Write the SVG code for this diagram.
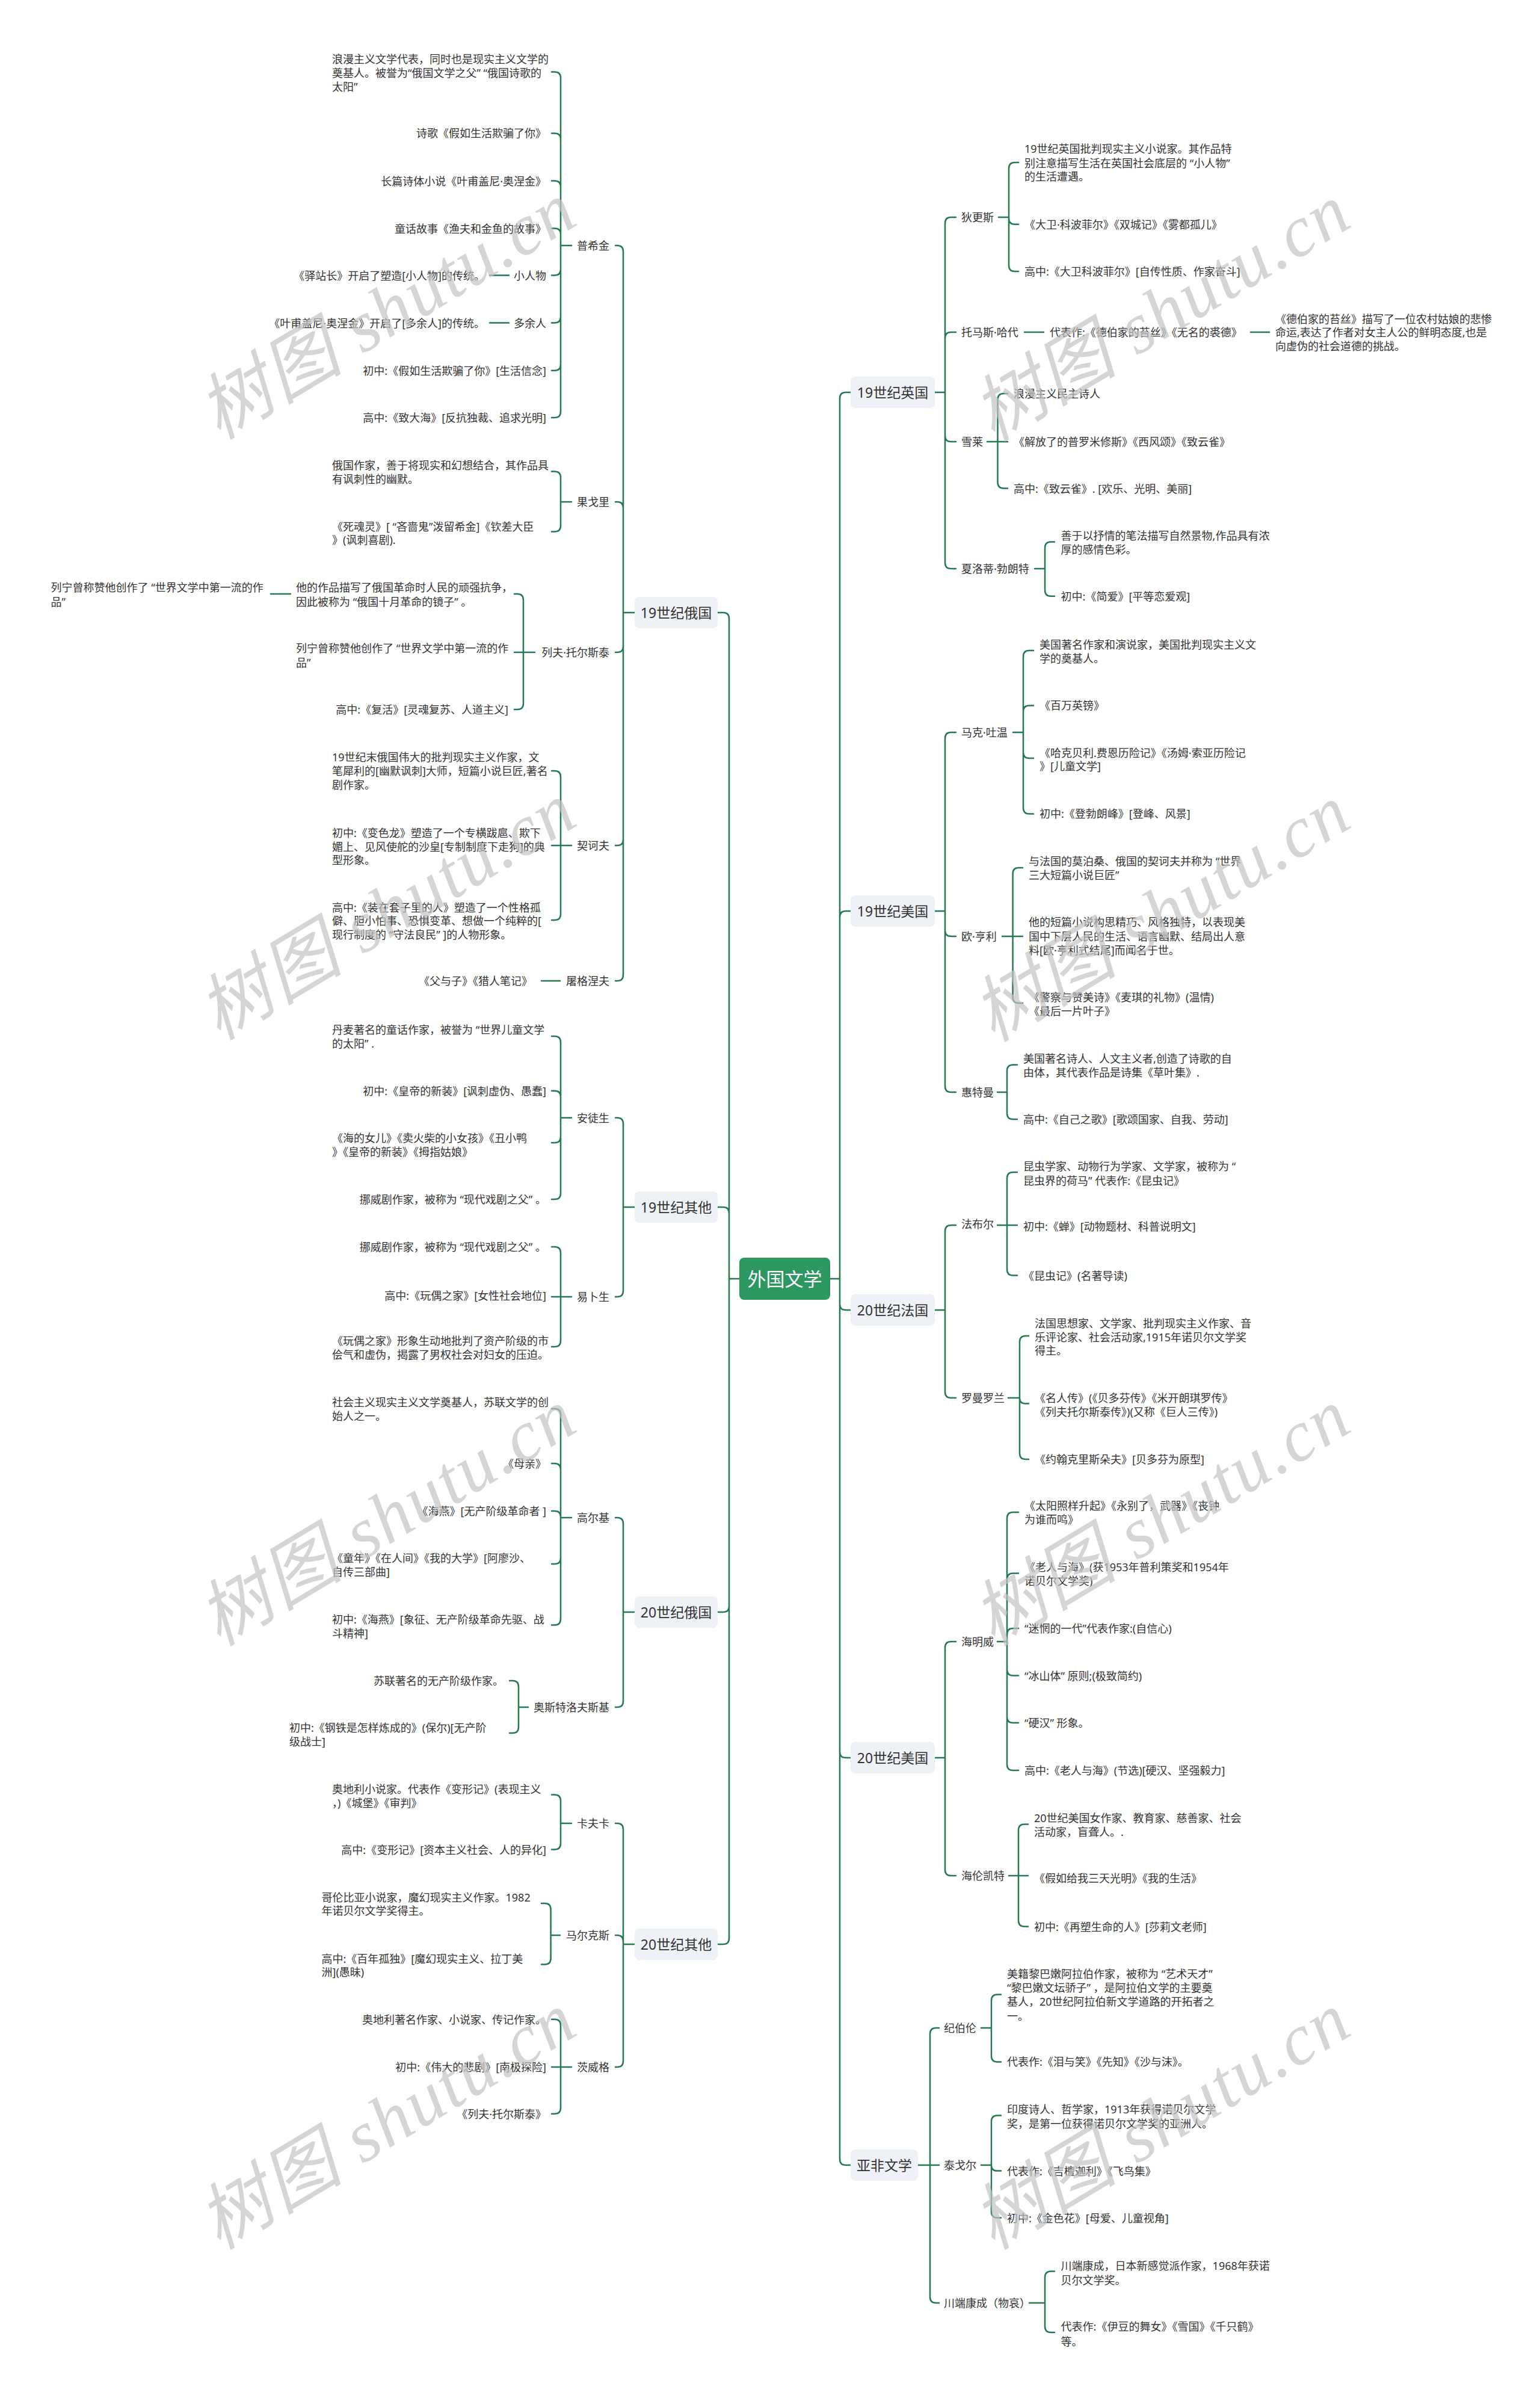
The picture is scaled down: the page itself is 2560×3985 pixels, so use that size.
<svg xmlns="http://www.w3.org/2000/svg" width="2560" height="3985" viewBox="0 0 2560 3985">
<style>
text{font-family:"Noto Sans","Noto Sans CJK SC",sans-serif;font-size:18px;fill:#333;dominant-baseline:central}
.e{text-anchor:end}
.m{text-anchor:middle}
.l1{font-size:23px}
.root{font-size:31px;fill:#fff;text-anchor:middle}
.c path{fill:none;stroke:#237a4e;stroke-width:2.5;stroke-linecap:round}
.b{fill:#eef1f5}
.wm{font-family:"Liberation Serif","Noto Sans CJK SC",serif;font-style:italic;font-size:120px;fill:#c4c4c4;opacity:.7;text-anchor:middle}
</style>
<rect width="2560" height="3985" fill="#fff"/>
<g id="connectors" class="c">
<path d="M1229 2125H1212M1212 2125V1028Q1212 1018 1202 1018H1193M1212 2125V2016Q1212 2006 1202 2006H1193M1212 2125V2669Q1212 2679 1202 2679H1193M1212 2125V3221Q1212 3231 1202 3231H1193"/>
<path d="M1380 2125H1396M1396 2125V662Q1396 652 1406 652H1414M1396 2125V1524Q1396 1514 1406 1514H1414M1396 2125V2167Q1396 2177 1406 2177H1414M1396 2125V2911Q1396 2921 1406 2921H1414M1396 2125V3588Q1396 3598 1406 3598H1414"/>
<path d="M1055 1018H1036M1036 1018V418Q1036 408 1026 408H1023M1036 1018V844Q1036 834 1026 834H1023M1036 1018V1074Q1036 1084 1026 1084H1023M1036 1018V1395Q1036 1405 1026 1405H1023M1036 1018V1620Q1036 1630 1026 1630H1023"/>
<path d="M1055 2006H1036M1036 2006V1867.5Q1036 1857.5 1026 1857.5H1023M1036 2006V2145Q1036 2155 1026 2155H1023"/>
<path d="M1055 2679H1036M1036 2679V2532Q1036 2522 1026 2522H1023M1036 2679V2827Q1036 2837 1026 2837H1023"/>
<path d="M1055 3231H1036M1036 3231V3040Q1036 3030 1026 3030H1023M1036 3231V3226Q1036 3216 1026 3216H1023M1036 3231V3425Q1036 3435 1026 3435H1023"/>
<path d="M1554 652H1571M1571 652V371Q1571 361 1581 361H1589M1571 652V562Q1571 552 1581 552H1589M1571 652V724Q1571 734 1581 734H1589M1571 652V935Q1571 945 1581 945H1589"/>
<path d="M1554 1514H1571M1571 1514V1227Q1571 1217 1581 1217H1589M1571 1514V1546Q1571 1556 1581 1556H1589M1571 1514V1805Q1571 1815 1581 1815H1589"/>
<path d="M1554 2177H1571M1571 2177V2046Q1571 2036 1581 2036H1589M1571 2177V2313Q1571 2323 1581 2323H1589"/>
<path d="M1554 2921H1571M1571 2921V2738Q1571 2728 1581 2728H1589M1571 2921V3107Q1571 3117 1581 3117H1589"/>
<path d="M1526 3598H1546M1546 3598V3380Q1546 3370 1556 3370H1561M1546 3598H1561M1546 3598V3817Q1546 3827 1556 3827H1561"/>
<path d="M1660 361H1677M1677 361V280Q1677 270 1687 270H1693M1677 361V362.8Q1677 372.8 1687 372.8H1693M1677 361V441Q1677 451 1687 451H1693"/>
<path d="M1703 552H1735M2079 552H2110"/>
<path d="M1641 734H1658.5M1658.5 734V664Q1658.5 654 1668.5 654H1675M1658.5 734H1675M1658.5 734V801.5Q1658.5 811.5 1668.5 811.5H1675"/>
<path d="M1720 945H1737M1737 945V910.4Q1737 900.4 1747 900.4H1753M1737 945V980.8Q1737 990.8 1747 990.8H1753"/>
<path d="M1684 1217H1701M1701 1217V1091Q1701 1081 1711 1081H1718M1701 1217V1182.4Q1701 1172.4 1711 1172.4H1718M1701 1217V1250Q1701 1260 1711 1260H1718M1701 1217V1342.4Q1701 1352.4 1711 1352.4H1718"/>
<path d="M1666 1556H1683.6M1683.6 1556V1452Q1683.6 1442 1693.6 1442H1700M1683.6 1556H1700M1683.6 1556V1657Q1683.6 1667 1693.6 1667H1700"/>
<path d="M1658 1815H1674M1674 1815V1779.5Q1674 1769.5 1684 1769.5H1691M1674 1815V1850Q1674 1860 1684 1860H1691"/>
<path d="M1658 2036H1674M1674 2036V1958Q1674 1948 1684 1948H1691M1674 2036H1691M1674 2036V2109.5Q1674 2119.5 1684 2119.5H1691"/>
<path d="M1676 2323H1695M1695 2323V2230Q1695 2220 1705 2220H1710M1695 2323V2323Q1695 2332.4 1704.4 2332.4H1710M1695 2323V2415Q1695 2425 1705 2425H1710"/>
<path d="M1658 2728H1674M1674 2728V2523Q1674 2513 1684 2513H1693M1674 2728V2624.5Q1674 2614.5 1684 2614.5H1693M1674 2728V2716Q1674 2706 1684 2706H1693M1674 2728V2774.5Q1674 2784.5 1684 2784.5H1693M1674 2728V2853Q1674 2863 1684 2863H1693M1674 2728V2932Q1674 2942 1684 2942H1693"/>
<path d="M1677 3117H1693M1693 3117V3041.6Q1693 3031.6 1703 3031.6H1709M1693 3117H1709M1693 3117V3191.5Q1693 3201.5 1703 3201.5H1709"/>
<path d="M1631 3370H1648M1648 3370V3324.5Q1648 3314.5 1658 3314.5H1664M1648 3370V3416.4Q1648 3426.4 1658 3426.4H1664"/>
<path d="M1631 3598H1648M1648 3598V3525.5Q1648 3515.5 1658 3515.5H1664M1648 3598V3598Q1648 3607.6 1657.6 3607.6H1664M1648 3598V3675.5Q1648 3685.5 1658 3685.5H1664"/>
<path d="M1711 3827H1737M1737 3827V3784.6Q1737 3774.6 1747 3774.6H1753M1737 3827V3866Q1737 3876 1747 3876H1753"/>
<path d="M950 408H932M932 408V129.4Q932 119.4 922 119.4H917M932 408V231.4Q932 221.4 922 221.4H917M932 408V310.5Q932 300.5 922 300.5H917M932 408V389.6Q932 379.6 922 379.6H917M932 408V447.5Q932 457.5 922 457.5H917M932 408V526.6Q932 536.6 922 536.6H917M932 408V605.7Q932 615.7 922 615.7H917M932 408V684Q932 694 922 694H917M846 457.5H814M846 536.6H814"/>
<path d="M950 834H932M932 834V793.6Q932 783.6 922 783.6H917M932 834V873.6Q932 883.6 922 883.6H917"/>
<path d="M889 1084H870M870 1084V997Q870 987 860 987H855M870 1084H855M870 1084V1169Q870 1179 860 1179H855M483 987H450"/>
<path d="M950 1405H932M932 1405V1291Q932 1281 922 1281H917M932 1405H917M932 1405V1519Q932 1529 922 1529H917"/>
<path d="M931 1630H900"/>
<path d="M950 1857.5H932M932 1857.5V1732Q932 1722 922 1722H917M932 1857.5V1822.7Q932 1812.7 922 1812.7H917M932 1857.5V1889Q932 1899 922 1899H917M932 1857.5V1983Q932 1993 922 1993H917"/>
<path d="M950 2155H932M932 2155V2082Q932 2072 922 2072H917M932 2155H917M932 2155V2228Q932 2238 922 2238H917"/>
<path d="M950 2522H932M932 2522V2351Q932 2341 922 2341H917M932 2522V2442Q932 2432 922 2432H917M932 2522V2521Q932 2511 922 2511H917M932 2522V2589Q932 2599 922 2599H917M932 2522V2690.6Q932 2700.6 922 2700.6H917"/>
<path d="M878 2837H862M862 2837V2803Q862 2793 852 2793H847M862 2837V2870Q862 2880 852 2880H847"/>
<path d="M950 3030H932M932 3030V2992.5Q932 2982.5 922 2982.5H917M932 3030V3063.5Q932 3073.5 922 3073.5H917"/>
<path d="M931 3216H915.6M915.6 3216V3173Q915.6 3163 905.6 3163H900M915.6 3216V3254.6Q915.6 3264.6 905.6 3264.6H900"/>
<path d="M950 3435H932M932 3435V3365.7Q932 3355.7 922 3355.7H917M932 3435H917M932 3435V3502.8Q932 3512.8 922 3512.8H917"/>
</g>
<g id="n-root"><rect x="1229" y="2090" width="151" height="70" rx="8" fill="#2d9761"/><text class="root" x="1304.5" y="2125">外国文学</text></g>
<g id="n-19ru"><rect class="b" x="1055" y="992" width="138" height="52" rx="8"/><text class="l1 m" x="1124" y="1018">19世纪俄国</text></g>
<g id="n-19ot"><rect class="b" x="1055" y="1980" width="138" height="52" rx="8"/><text class="l1 m" x="1124" y="2006">19世纪其他</text></g>
<g id="n-20ru"><rect class="b" x="1055" y="2653" width="138" height="52" rx="8"/><text class="l1 m" x="1124" y="2679">20世纪俄国</text></g>
<g id="n-20ot"><rect class="b" x="1055" y="3205" width="138" height="52" rx="8"/><text class="l1 m" x="1124" y="3231">20世纪其他</text></g>
<g id="n-19uk"><rect class="b" x="1414" y="626" width="140" height="52" rx="8"/><text class="l1 m" x="1484" y="652">19世纪英国</text></g>
<g id="n-19us"><rect class="b" x="1414" y="1488" width="140" height="52" rx="8"/><text class="l1 m" x="1484" y="1514">19世纪美国</text></g>
<g id="n-20fr"><rect class="b" x="1414" y="2151" width="140" height="52" rx="8"/><text class="l1 m" x="1484" y="2177">20世纪法国</text></g>
<g id="n-20us"><rect class="b" x="1414" y="2895" width="140" height="52" rx="8"/><text class="l1 m" x="1484" y="2921">20世纪美国</text></g>
<g id="n-asaf"><rect class="b" x="1414" y="3572" width="112" height="52" rx="8"/><text class="l1 m" x="1470" y="3598">亚非文学</text></g>
<g id="n-pushkin"><text class="e" x="1013" y="408">普希金</text>
<text x="552" y="97.7">浪漫主义文学代表，同时也是现实主义文学的</text><text x="552" y="120.6">奠基人。被誉为“俄国文学之父” “俄国诗歌的</text><text x="552" y="143.5">太阳”</text>
<text class="e" x="908" y="221.4">诗歌《假如生活欺骗了你》</text>
<text class="e" x="908" y="300.5">长篇诗体小说《叶甫盖尼·奥涅金》</text>
<text class="e" x="908" y="379.6">童话故事《渔夫和金鱼的故事》</text>
<text class="e" x="908" y="457.5">小人物</text><text class="e" x="806" y="457.5">《驿站长》开启了塑造[小人物]的传统。</text>
<text class="e" x="908" y="536.6">多余人</text><text class="e" x="806" y="536.6">《叶甫盖尼·奥涅金》开启了[多余人]的传统。</text>
<text class="e" x="908" y="615.7">初中:《假如生活欺骗了你》[生活信念]</text>
<text class="e" x="908" y="694">高中:《致大海》[反抗独裁、追求光明]</text></g>
<g id="n-gogol"><text class="e" x="1013" y="834">果戈里</text>
<text x="552" y="772.9">俄国作家，善于将现实和幻想结合，其作品具</text><text x="552" y="795.5">有讽刺性的幽默。</text>
<text x="552" y="874.5">《死魂灵》[ “吝啬鬼”泼留希金]《钦差大臣</text><text x="552" y="896.7">》(讽刺喜剧).</text></g>
<g id="n-tolstoy"><text class="e" x="1013" y="1084">列夫·托尔斯泰</text>
<text x="492" y="975.8">他的作品描写了俄国革命时人民的顽强抗争，</text><text x="492" y="999.5">因此被称为 “俄国十月革命的镜子” 。</text>
<text x="84.5" y="975.8">列宁曾称赞他创作了 “世界文学中第一流的作</text><text x="84.5" y="999.5">品”</text>
<text x="492" y="1077.4">列宁曾称赞他创作了 “世界文学中第一流的作</text><text x="492" y="1101">品”</text>
<text class="e" x="845" y="1179">高中:《复活》[灵魂复苏、人道主义]</text></g>
<g id="n-chekhov"><text class="e" x="1013" y="1405">契诃夫</text>
<text x="552" y="1258">19世纪末俄国伟大的批判现实主义作家，文</text><text x="552" y="1281">笔犀利的[幽默讽刺]大师，短篇小说巨匠,著名</text><text x="552" y="1303.8">剧作家。</text>
<text x="552" y="1383.7">初中:《变色龙》塑造了一个专横跋扈、欺下</text><text x="552" y="1406.6">媚上、见风使舵的沙皇[专制制度下走狗]的典</text><text x="552" y="1429.2">型形象。</text>
<text x="552" y="1507.5">高中:《装在套子里的人》塑造了一个性格孤</text><text x="552" y="1530.4">僻、胆小怕事、恐惧变革、想做一个纯粹的[</text><text x="552" y="1553">现行制度的 “守法良民” ]的人物形象。</text></g>
<g id="n-turgenev"><text class="e" x="1013" y="1630">屠格涅夫</text><text class="e" x="885" y="1630">《父与子》《猎人笔记》</text></g>
<g id="n-andersen"><text class="e" x="1013" y="1857.5">安徒生</text>
<text x="552" y="1711">丹麦著名的童话作家，被誉为 “世界儿童文学</text><text x="552" y="1733.6">的太阳” .</text>
<text class="e" x="908" y="1812.7">初中:《皇帝的新装》[讽刺虚伪、愚蠢]</text>
<text x="552" y="1891">《海的女儿》《卖火柴的小女孩》《丑小鸭</text><text x="552" y="1913.8">》《皇帝的新装》《拇指姑娘》</text>
<text class="e" x="908" y="1993">挪威剧作家，被称为 “现代戏剧之父” 。</text></g>
<g id="n-ibsen"><text class="e" x="1013" y="2155">易卜生</text>
<text class="e" x="908" y="2072">挪威剧作家，被称为 “现代戏剧之父” 。</text>
<text class="e" x="908" y="2153">高中:《玩偶之家》[女性社会地位]</text>
<text x="552" y="2228">《玩偶之家》形象生动地批判了资产阶级的市</text><text x="552" y="2251">侩气和虚伪，揭露了男权社会对妇女的压迫。</text></g>
<g id="n-gorky"><text class="e" x="1013" y="2522">高尔基</text>
<text x="552" y="2330">社会主义现实主义文学奠基人，苏联文学的创</text><text x="552" y="2352.7">始人之一。</text>
<text class="e" x="908" y="2432">《母亲》</text>
<text class="e" x="908" y="2511">《海燕》[无产阶级革命者 ]</text>
<text x="552" y="2589">《童年》《在人间》《我的大学》[阿廖沙、</text><text x="552" y="2612">自传三部曲]</text>
<text x="552" y="2691">初中:《海燕》[象征、无产阶级革命先驱、战</text><text x="552" y="2713.6">斗精神]</text></g>
<g id="n-ostrovsky"><text class="e" x="1013" y="2837">奥斯特洛夫斯基</text>
<text class="e" x="837" y="2793">苏联著名的无产阶级作家。</text>
<text x="481" y="2870.6">初中:《钢铁是怎样炼成的》(保尔)[无产阶</text><text x="481" y="2893.5">级战士]</text></g>
<g id="n-kafka"><text class="e" x="1013" y="3030">卡夫卡</text>
<text x="552" y="2972.6">奥地利小说家。代表作《变形记》(表现主义</text><text x="552" y="2995.6">，)《城堡》《审判》</text>
<text class="e" x="908" y="3073.5">高中:《变形记》[资本主义社会、人的异化]</text></g>
<g id="n-marquez"><text class="e" x="1013" y="3216">马尔克斯</text>
<text x="534.5" y="3153">哥伦比亚小说家，魔幻现实主义作家。1982</text><text x="534.5" y="3175.4">年诺贝尔文学奖得主。</text>
<text x="534.5" y="3255">高中:《百年孤独》[魔幻现实主义、拉丁美</text><text x="534.5" y="3277">洲](愚昧)</text></g>
<g id="n-zweig"><text class="e" x="1013" y="3435">茨威格</text>
<text class="e" x="908" y="3355.7">奥地利著名作家、小说家、传记作家。</text>
<text class="e" x="908" y="3435">初中:《伟大的悲剧》[南极探险]</text>
<text class="e" x="908" y="3512.8">《列夫·托尔斯泰》</text></g>
<g id="n-dickens"><text x="1598" y="361">狄更斯</text>
<text x="1703" y="247.4">19世纪英国批判现实主义小说家。其作品特</text><text x="1703" y="271">别注意描写生活在英国社会底层的 “小人物”</text><text x="1703" y="293">的生活遭遇。</text>
<text x="1703" y="372.8">《大卫·科波菲尔》《双城记》《雾都孤儿》</text>
<text x="1703" y="451">高中:《大卫科波菲尔》[自传性质、作家奋斗]</text></g>
<g id="n-hardy"><text x="1598" y="552.4">托马斯·哈代</text>
<text x="1745" y="552.4">代表作:《德伯家的苔丝》《无名的裘德》</text>
<text x="2120" y="529.5">《德伯家的苔丝》描写了一位农村姑娘的悲惨</text><text x="2120" y="552.4">命运,表达了作者对女主人公的鲜明态度,也是</text><text x="2120" y="574.5">向虚伪的社会道德的挑战。</text></g>
<g id="n-shelley"><text x="1598" y="734">雪莱</text>
<text x="1685" y="654">浪漫主义民主诗人</text>
<text x="1685" y="734">《解放了的普罗米修斯》《西风颂》《致云雀》</text>
<text x="1685" y="811.5">高中:《致云雀》. [欢乐、光明、美丽]</text></g>
<g id="n-bronte"><text x="1598" y="945">夏洛蒂·勃朗特</text>
<text x="1763.6" y="890.3">善于以抒情的笔法描写自然景物,作品具有浓</text><text x="1763.6" y="913.2">厚的感情色彩。</text>
<text x="1763.6" y="990.8">初中:《简爱》[平等恋爱观]</text></g>
<g id="n-twain"><text x="1598" y="1217">马克·吐温</text>
<text x="1728" y="1071">美国著名作家和演说家，美国批判现实主义文</text><text x="1728" y="1094">学的奠基人。</text>
<text x="1728" y="1172.4">《百万英镑》</text>
<text x="1728" y="1250.7">《哈克贝利.费恩历险记》《汤姆·索亚历险记</text><text x="1728" y="1273.2">》[儿童文学]</text>
<text x="1728" y="1352.4">初中:《登勃朗峰》[登峰、风景]</text></g>
<g id="n-ohenry"><text x="1598" y="1556">欧·亨利</text>
<text x="1710" y="1431">与法国的莫泊桑、俄国的契诃夫并称为 “世界</text><text x="1710" y="1454">三大短篇小说巨匠”</text>
<text x="1710" y="1532.4">他的短篇小说构思精巧、风格独特，以表现美</text><text x="1710" y="1555.7">国中下层人民的生活、语言幽默、结局出人意</text><text x="1710" y="1578.6">料[欧·亨利式结尾]而闻名于世。</text>
<text x="1710" y="1657">《警察与赞美诗》《麦琪的礼物》(温情)</text><text x="1710" y="1680">《最后一片叶子》</text></g>
<g id="n-whitman"><text x="1598" y="1815">惠特曼</text>
<text x="1701" y="1759.4">美国著名诗人、人文主义者,创造了诗歌的自</text><text x="1701" y="1782.3">由体，其代表作品是诗集《草叶集》.</text>
<text x="1701" y="1860">高中:《自己之歌》[歌颂国家、自我、劳动]</text></g>
<g id="n-fabre"><text x="1598" y="2034">法布尔</text>
<text x="1701" y="1938">昆虫学家、动物行为学家、文学家，被称为 “</text><text x="1701" y="1961.5">昆虫界的荷马” 代表作:《昆虫记》</text>
<text x="1701" y="2038">初中:《蝉》[动物题材、科普说明文]</text>
<text x="1701" y="2119.5">《昆虫记》(名著导读)</text></g>
<g id="n-rolland"><text x="1598" y="2323">罗曼罗兰</text>
<text x="1720" y="2198.6">法国思想家、文学家、批判现实主义作家、音</text><text x="1720" y="2221.5">乐评论家、社会活动家,1915年诺贝尔文学奖</text><text x="1720" y="2244">得主。</text>
<text x="1720" y="2323">《名人传》(《贝多芬传》《米开朗琪罗传》</text><text x="1720" y="2346">《列夫托尔斯泰传》)(又称《巨人三传》)</text>
<text x="1720" y="2425">《约翰克里斯朵夫》[贝多芬为原型]</text></g>
<g id="n-hemingway"><text x="1598" y="2728">海明威</text>
<text x="1703" y="2502">《太阳照样升起》《永别了，武器》《丧钟</text><text x="1703" y="2525">为谁而鸣》</text>
<text x="1703" y="2604.4">《老人与海》(获1953年普利策奖和1954年</text><text x="1703" y="2627.3">诺贝尔文学奖)</text>
<text x="1703" y="2706">“迷惘的一代”代表作家:(自信心)</text>
<text x="1703" y="2784.5">“冰山体” 原则;(极致简约)</text>
<text x="1703" y="2863">“硬汉” 形象。</text>
<text x="1703" y="2942">高中:《老人与海》(节选)[硬汉、坚强毅力]</text></g>
<g id="n-keller"><text x="1598" y="3117">海伦凯特</text>
<text x="1719" y="3020.7">20世纪美国女作家、教育家、慈善家、社会</text><text x="1719" y="3043.6">活动家，盲聋人。.</text>
<text x="1719" y="3121">《假如给我三天光明》《我的生活》</text>
<text x="1719" y="3201.5">初中:《再塑生命的人》[莎莉文老师]</text></g>
<g id="n-gibran"><text x="1569" y="3370">纪伯伦</text>
<text x="1674" y="3279.5">美籍黎巴嫩阿拉伯作家，被称为 “艺术天才”</text><text x="1674" y="3302.8">“黎巴嫩文坛骄子” ，是阿拉伯文学的主要奠</text><text x="1674" y="3325.7">基人，20世纪阿拉伯新文学道路的开拓者之</text><text x="1674" y="3349.7">一。</text>
<text x="1674" y="3426.4">代表作:《泪与笑》《先知》《沙与沫》。</text></g>
<g id="n-tagore"><text x="1569" y="3598">泰戈尔</text>
<text x="1674" y="3505">印度诗人、哲学家，1913年获得诺贝尔文学</text><text x="1674" y="3528.8">奖，是第一位获得诺贝尔文学奖的亚洲人。</text>
<text x="1674" y="3607.6">代表作:《吉檀迦利》《飞鸟集》</text>
<text x="1674" y="3685.5">初中:《金色花》[母爱、儿童视角]</text></g>
<g id="n-kawabata"><text x="1569" y="3827">川端康成（物哀）</text>
<text x="1763.6" y="3765">川端康成，日本新感觉派作家，1968年获诺</text><text x="1763.6" y="3789">贝尔文学奖。</text>
<text x="1763.6" y="3865.8">代表作:《伊豆的舞女》《雪国》《千只鹤》</text><text x="1763.6" y="3890.7">等。</text></g>
<g id="watermarks">
<text class="wm" transform="translate(643 517) rotate(-31)" textLength="700" lengthAdjust="spacing">树图 shutu.cn</text>
<text class="wm" transform="translate(643 1515) rotate(-31)" textLength="700" lengthAdjust="spacing">树图 shutu.cn</text>
<text class="wm" transform="translate(643 2522) rotate(-31)" textLength="700" lengthAdjust="spacing">树图 shutu.cn</text>
<text class="wm" transform="translate(643 3525) rotate(-31)" textLength="700" lengthAdjust="spacing">树图 shutu.cn</text>
<text class="wm" transform="translate(1930 520) rotate(-31)" textLength="700" lengthAdjust="spacing">树图 shutu.cn</text>
<text class="wm" transform="translate(1930 1518) rotate(-31)" textLength="700" lengthAdjust="spacing">树图 shutu.cn</text>
<text class="wm" transform="translate(1930 2522) rotate(-31)" textLength="700" lengthAdjust="spacing">树图 shutu.cn</text>
<text class="wm" transform="translate(1930 3525) rotate(-31)" textLength="700" lengthAdjust="spacing">树图 shutu.cn</text>
</g>
</svg>
